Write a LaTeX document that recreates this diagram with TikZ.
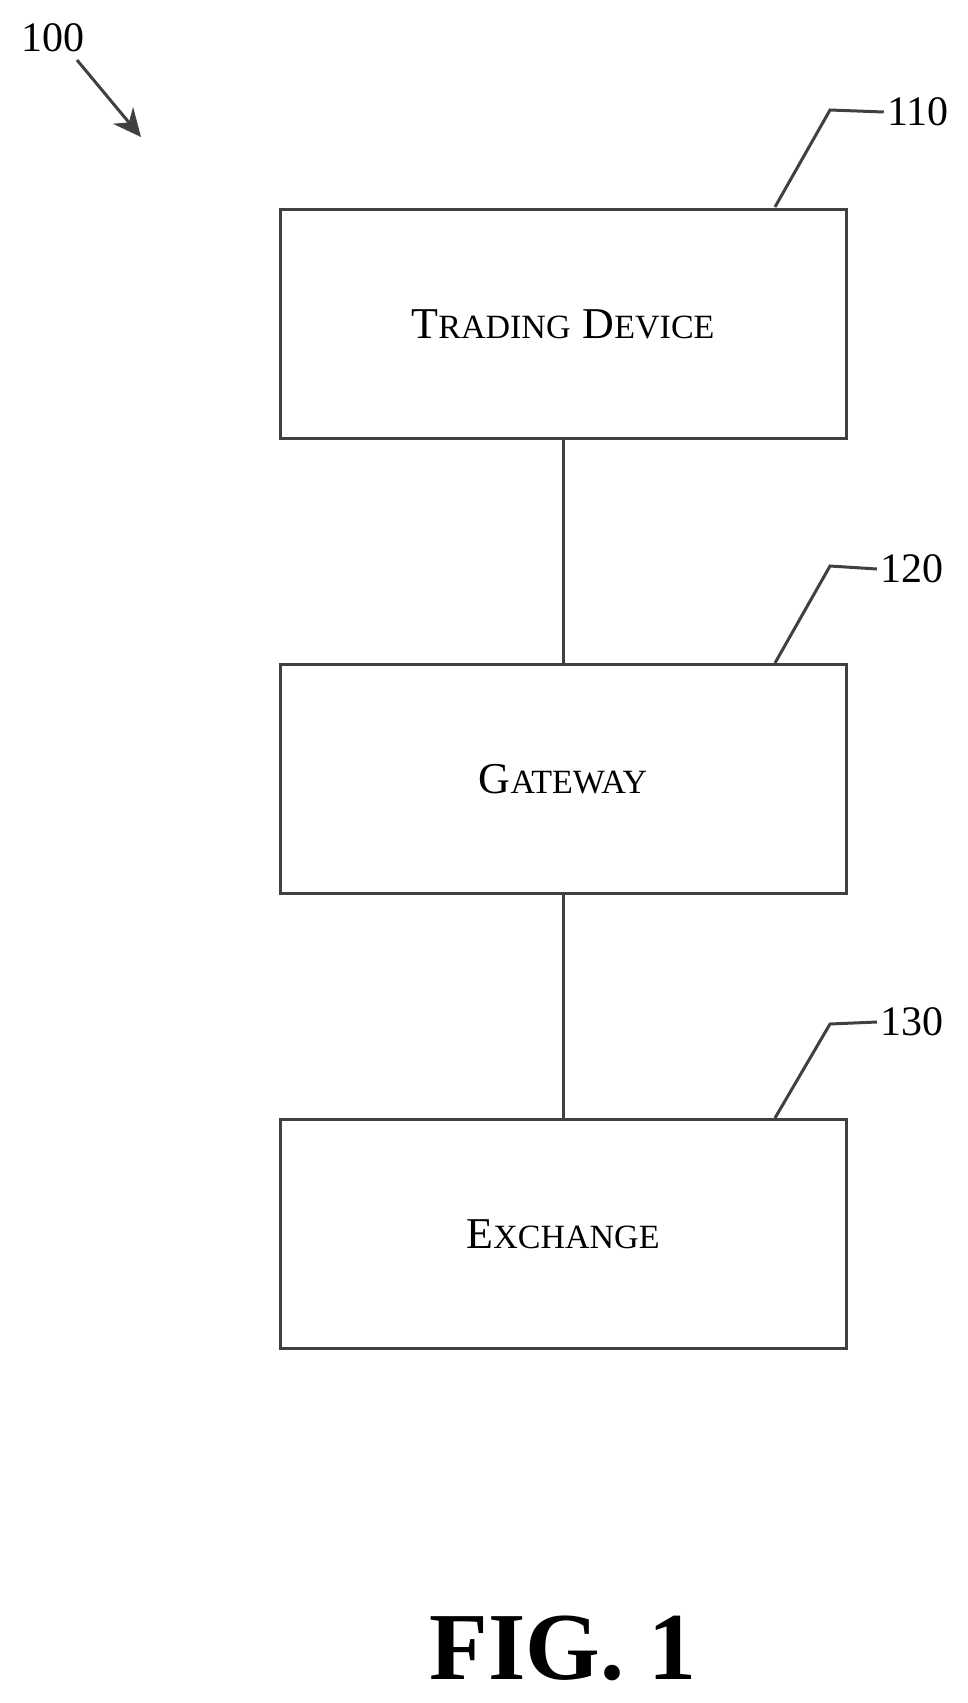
\documentclass[tikz,border=0pt]{standalone}
\usepackage{fontspec}
\setmainfont{Liberation Serif}
\usetikzlibrary{arrows.meta}
\newcommand{\fsc}[2]{{\fontsize{44}{48}\selectfont #1}{\fontsize{34}{38}\selectfont #2}}
\tikzset{
  box/.style={draw=black!75, line width=3pt, minimum width=566pt, minimum height=229pt}, % block
  wire/.style={draw=black!75, line width=3pt},
  ref/.style={font=\fontsize{42}{46}\selectfont},
}
\begin{document}
\begin{tikzpicture}[x=1pt,y=-1pt]
  \useasboundingbox (0,0) rectangle (967,1703);
  \node[box] (dev) at (563,324) {\fsc{T}{RADING}\hspace{12pt}\fsc{D}{EVICE}};
  \node[box] (gw) at (563,779) {\fsc{G}{ATEWAY}};
  \node[box] (ex) at (563,1234) {\fsc{E}{XCHANGE}};

  \draw[wire] (dev) -- (gw);
  \draw[wire] (gw) -- (ex);

  % reference numerals
  \node[ref] (n110) at (918,112) {110};
  \node[ref] (n120) at (912,569) {120};
  \node[ref] (n130) at (912,1022) {130};
  \coordinate (c110) at (775,207);
  \coordinate (c120) at (775,663);
  \coordinate (c130) at (775,1118);
  \draw[wire] (c110) -- (830,110) -- (n110.west);
  \draw[wire] (c120) -- (830,566) -- (n120.west);
  \draw[wire] (c130) -- (830,1024) -- (n130.west);

  \node[ref] (n100) at (53,38) {100};
  \coordinate (a100) at (141,137);
  \draw[wire, -{Stealth[length=28pt,width=26pt]}] (77,60) -- (a100);

  \node[font=\fontsize{96}{104}\selectfont\bfseries] (fig) at (563,1648) {FIG. 1};
\end{tikzpicture}
\end{document}
